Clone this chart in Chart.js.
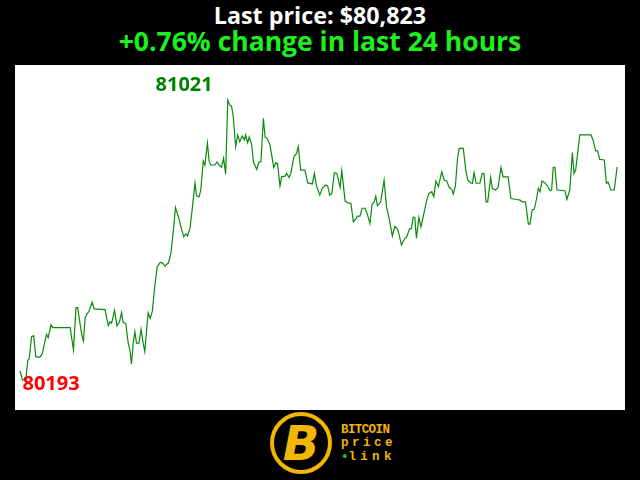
<!DOCTYPE html>
<html>
<head>
<meta charset="utf-8">
<script src="https://cdn.jsdelivr.net/npm/chart.js@4/dist/chart.umd.min.js"></script>
<style>
  html, body { margin: 0; padding: 0; background: #000; }
  #page { position: relative; width: 640px; height: 480px; background: #000; overflow: hidden; }
  .head { position: absolute; left: 0; width: 640px; text-align: center; font-family: "Open Sans", sans-serif; font-weight: bold; }
  #t1 { top: 4px; color: #ffffff; font-size: 23.3px; line-height: 23.3px; }
  #t2 { top: 28px; color: #1ef01e; font-size: 26.5px; line-height: 26.5px; }
  #chartBox { position: absolute; left: 15px; top: 65px; width: 610px; height: 345px; background: #fff; }
  #ring { position: absolute; left: 270px; top: 412px; width: 54px; height: 54px; border: 4px solid #f2b705; border-radius: 50%; }
  #bee { position: absolute; left: 277px; top: 419px; width: 48px; text-align: center; font-family: "DejaVu Sans", sans-serif; font-weight: bold; font-style: italic; font-size: 48px; line-height: 48px; color: #f2b705; }
  .brand { position: absolute; left: 341px; font-family: "Liberation Mono", monospace; font-weight: bold; color: #f2b705; font-size: 12.5px; line-height: 12px; }
  #b1 { top: 424px; letter-spacing: -0.6px; }
  #b2 { top: 437px; letter-spacing: 3.5px; }
  #b3 { top: 451px; letter-spacing: 4.3px; }
  #b3 span { color: #22cc22; letter-spacing: 0; }
</style>
</head>
<body>
<div id="page">
  <div class="head" id="t1"></div>
  <div class="head" id="t2"></div>
  <div id="chartBox"><canvas id="chartContainer" width="610" height="345"></canvas></div>
  <div id="ring"></div>
  <div id="bee">B</div>
  <div class="brand" id="b1">BITCOIN</div>
  <div class="brand" id="b2">price</div>
  <div class="brand" id="b3"><span>&#8226;</span>link</div>
</div>
<script>
var lastPriceText = "Last price: $80,823";
var changeText = "+0.76% change in last 24 hours";

// minutes since start of the 24 hour window
var minutes = [0,6,14,19,22,28,33,38,48,54,64,68,75,79,121,129,135,139,149,153,157,161,166,174,179,205,213,217,221,
  228,234,240,245,249,255,261,265,269,273,277,281,287,292,297,301,
  309,314,319,325,331,338,343,350,358,364,370,375,382,390,395,400,404,410,
  416,422,426,432,436,442,446,452,456,460,470,475,480,486,491,496,501,
  506,510,514,520,525,530,536,541,544,549,553,559,563,571,576,581,587,591,596,603,
  607,612,617,621,627,631,639,643,649,653,661,667,671,677,687,694,705,710,715,723,
  729,737,742,747,752,758,764,772,776,784,790,798,804,809,814,820,825,832,837,844,
  849,854,858,862,870,878,884,890,898,904,911,920,928,932,940,944,948,952,956,962,
  967,972,981,986,993,998,1003,1009,1017,1023,1029,1035,1041,1045,1050,1055,1059,1069,1075,1080,
  1087,1091,1095,1100,1109,1115,1119,1124,1128,1135,1139,1147,1153,1160,1165,1177,1184,1198,1206,1211,
  1219,1226,1230,1235,1240,1246,1250,1254,1259,1266,1272,1278,1282,1286,1290,1295,1314,1319,1326,1332,
  1336,1340,1350,1377,1382,1388,1393,1398,1409,1414,1418,1425,1433,1440];

// price in USD
var prices = [80220,80193,80193,80252,80255,80321,80324,80262,80260,80272,80328,80318,80356,80348,80348,80282,80407,80407,80326,80308,80375,80388,80395,80423,80403,80401,80354,80365,80361,
  80399,80353,80365,80392,80362,80361,80302,80282,80240,80302,80336,80302,80302,80343,80302,80277,
  80392,80375,80395,80469,80528,80540,80540,80530,80540,80568,80637,80703,80676,80637,80617,80625,80619,80642,
  80705,80776,80737,80735,80755,80841,80829,80894,80841,80829,80829,80838,80829,80822,80849,80802,81021,
  81006,81003,80977,80883,80918,80898,80915,80903,80918,80895,80912,80888,80838,80816,80838,80838,80967,80912,80908,80888,
  80858,80822,80836,80834,80767,80794,80796,80804,80792,80804,80855,80863,80883,80814,80814,80776,80773,80804,80767,80740,
  80760,80770,80767,80740,80745,80806,80804,80763,80812,80723,80717,80716,80661,80668,80678,80678,80701,80701,80686,80656,
  80713,80720,80737,80708,80720,80784,80705,80671,80619,80648,80639,80592,80612,80615,80641,80641,80674,80674,80612,80674,
  80646,80674,80725,80745,80750,80735,80782,80765,80809,80784,80782,80763,80757,80743,80767,80846,80878,80878,80814,80784,
  80776,80775,80806,80775,80775,80804,80804,80720,80720,80792,80760,80755,80763,80822,80794,80794,80730,80727,80725,80720,
  80720,80654,80654,80696,80698,80730,80760,80750,80782,80776,80767,80753,80755,80822,80822,80755,80753,80727,80757,80866,
  80804,80814,80918,80918,80903,80871,80871,80846,80844,80775,80779,80755,80755,80823];

document.getElementById('t1').textContent = lastPriceText;
document.getElementById('t2').textContent = changeText;

// writes the high and low of the day next to their points
var highLowLabels = {
  id: 'highLowLabels',
  afterDatasetsDraw: function (chart) {
    var ctx = chart.ctx;
    var xs = chart.scales.x, ys = chart.scales.y;
    var hi = 0, lo = 0;
    for (var i = 1; i < prices.length; i++) {
      if (prices[i] > prices[hi]) hi = i;
      if (prices[i] < prices[lo]) lo = i;
    }
    ctx.save();
    ctx.font = 'bold 20px "Open Sans", sans-serif';
    ctx.fillStyle = '#008000';
    ctx.textAlign = 'right';
    ctx.textBaseline = 'alphabetic';
    ctx.fillText(String(prices[hi]), xs.getPixelForValue(minutes[hi]) - 15, ys.getPixelForValue(prices[hi]) - 9);
    ctx.fillStyle = '#ff0000';
    ctx.textAlign = 'left';
    ctx.fillText(String(prices[lo]), xs.getPixelForValue(minutes[lo]), ys.getPixelForValue(prices[lo]) + 10);
    ctx.restore();
  }
};

window.onload = function () {
  var ctx = document.getElementById('chartContainer').getContext('2d');
  var points = minutes.map(function (m, i) { return { x: m, y: prices[i] }; });

  new Chart(ctx, {
    type: 'line',
    data: {
      datasets: [{
        label: 'BTC',
        data: points,
        borderColor: '#0a8a0a',
        borderWidth: 1.2,
        pointRadius: 0,
        tension: 0,
        fill: false
      }]
    },
    options: {
      responsive: false,
      animation: false,
      layout: { padding: 0 },
      plugins: { legend: { display: false }, tooltip: { enabled: false } },
      scales: {
        x: { type: 'linear', display: false, min: -12, max: 1459 },
        y: { display: false, min: 80104, max: 81125 }
      }
    },
    plugins: [highLowLabels]
  });
};
</script>
</body>
</html>
